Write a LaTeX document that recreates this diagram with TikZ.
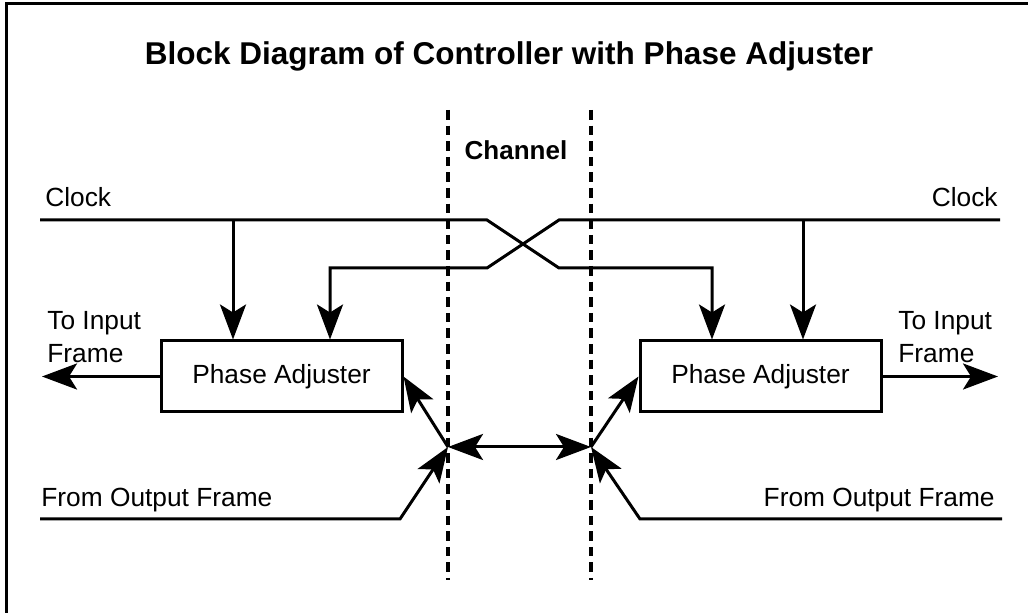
\documentclass[tikz,border=0pt]{standalone}
\usepackage{fontspec}
\setmainfont{Liberation Sans}
\usetikzlibrary{arrows.meta}
\begin{document}
\begin{tikzpicture}[x=0.5pt,y=-0.5pt,
  tip/.style={-{Stealth[length=17.5pt,width=13pt,inset=4pt]}},
  wire/.style={line width=1.5pt},
  arr/.style={wire,tip},
  darr/.style={wire,{Stealth[length=17.5pt,width=13pt,inset=4pt]}-{Stealth[length=17.5pt,width=13pt,inset=4pt]}},
  chanline/.style={line width=2.4pt,dash pattern=on 4.8pt off 3pt},
  normal/.style={font=\fontsize{13.15}{16.5}\selectfont},
  pabox/.style={draw,line width=1.5pt,minimum width=120.5pt,minimum height=35.5pt,inner sep=0pt,normal},
  lbl/.style={inner sep=0pt,normal}
]
\useasboundingbox (0,0) rectangle (1028,613);

% outer frame (left and top edges)
\coordinate (fbl) at (6,613);
\coordinate (ftl) at (6,4);
\coordinate (ftr) at (1028,4);
\draw[line width=1.5pt] (fbl) -- (ftl) -- (ftr);

% title and channel label
\node[inner sep=0pt,anchor=base,font=\bfseries\fontsize{15.75}{19}\selectfont] (title) at (509,65)
  {Block Diagram of Controller with Phase Adjuster};
\node[inner sep=0pt,anchor=base,font=\bfseries\fontsize{13}{16}\selectfont] (chan) at (516,160) {Channel};

% channel boundaries
\coordinate (cl1) at (448,110);
\coordinate (cl2) at (448,580);
\coordinate (cr1) at (591,110);
\coordinate (cr2) at (591,580);
\draw[chanline] (cl1) -- (cl2);
\draw[chanline] (cr1) -- (cr2);

% phase adjuster blocks
\node[pabox] (lpa) at (281.5,376.5) {Phase Adjuster};
\node[pabox] (rpa) at (760.5,376.5) {Phase Adjuster};

% text labels
\node[lbl,anchor=base west] (clkLt) at (45,207) {Clock};
\node[lbl,anchor=base east] (clkRt) at (998,207) {Clock};
\node[lbl,anchor=north west,align=left] (tiL) at (47,311) {To Input\\Frame};
\node[lbl,anchor=north west,align=left] (tiR) at (898,311) {To Input\\Frame};
\node[lbl,anchor=base west] (ofL) at (41,507) {From Output Frame};
\node[lbl,anchor=base east] (ofR) at (995,507) {From Output Frame};

% clock lines crossing over the channel
\coordinate (clkLs) at (40,220);
\coordinate (xl1) at (487,220);
\coordinate (xr1) at (559,268);
\coordinate (rdrop) at (712,268);
\coordinate (clkRs) at (1000,220);
\coordinate (xr2) at (559,220);
\coordinate (xl2) at (487,268);
\coordinate (ldrop) at (330,268);
\draw[arr] (clkLs) -- (xl1) -- (xr1) -- (rdrop) -- (rdrop |- rpa.north);
\draw[arr] (clkRs) -- (xr2) -- (xl2) -- (ldrop) -- (ldrop |- lpa.north);

% local clock taps
\coordinate (tapL) at (233,220);
\coordinate (tapR) at (803,220);
\draw[arr] (tapL) -- (tapL |- lpa.north);
\draw[arr] (tapR) -- (tapR |- rpa.north);

% outputs to input frames
\coordinate (outL) at (42,376.5);
\coordinate (outR) at (998,376.5);
\draw[arr] (lpa.west) -- (outL);
\draw[arr] (rpa.east) -- (outR);

% junctions on the channel boundaries
\coordinate (jl) at (448,447);
\coordinate (jr) at (591,447);
\draw[darr] (jl) -- (jr);
\draw[arr] (jl) -- (lpa.east);
\draw[arr] (jr) -- (rpa.west);

% output frame feeds
\coordinate (ofLs) at (40,519);
\coordinate (ofLk) at (400,519);
\coordinate (ofRs) at (1002,519);
\coordinate (ofRk) at (640,519);
\draw[arr] (ofLs) -- (ofLk) -- (jl);
\draw[arr] (ofRs) -- (ofRk) -- (jr);
\end{tikzpicture}
\end{document}
